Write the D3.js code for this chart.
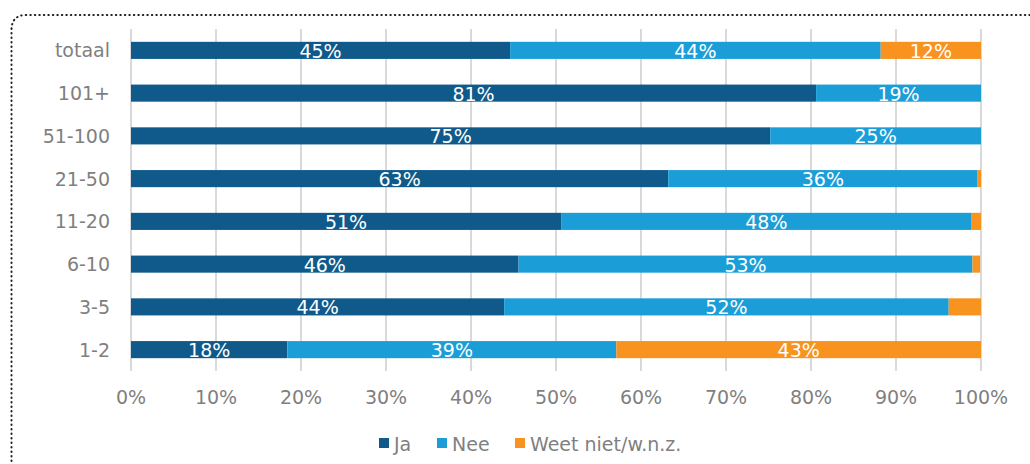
<!DOCTYPE html>
<html>
<head>
<meta charset="utf-8">
<script src="https://cdn.jsdelivr.net/npm/d3@7"></script>
<style>
  body { margin: 0; background: #fff; }
  svg { display: block; font-family: "DejaVu Sans", sans-serif; }
</style>
</head>
<body>
<svg id="canvas" width="1030" height="464"></svg>
<script>
// data
let categories = ['totaal', '101+', '51-100', '21-50', '11-20', '6-10', '3-5', '1-2']
let ja = [44.6, 80.6, 75.2, 63.2, 50.6, 45.6, 43.9, 18.4]
let nee = [43.6, 19.4, 24.8, 36.4, 48.3, 53.4, 52.3, 38.7]
let weet = [11.8, 0, 0, 0.4, 1.1, 0.9, 3.8, 42.9]
let seriesNames = ['Ja', 'Nee', 'Weet niet/w.n.z.']
let colors = ['#0f5a8b', '#1b9ed8', '#f7931e']
let tickValues = [0, 10, 20, 30, 40, 50, 60, 70, 80, 90, 100]

let canvas = d3.select('#canvas')
let textColor = '#7f7f7f'
let fontSize = 19

// dotted frame with a rounded top left corner
canvas.append('path')
  .attr('d', 'M11.5,470 L11.5,30 Q11.5,15 26.5,15 L1040,15')
  .attr('fill', 'none')
  .attr('stroke', '#222')
  .attr('stroke-width', 2)
  .attr('stroke-dasharray', '0.5,4')
  .attr('stroke-linecap', 'round')

let x = d3.scaleLinear().domain([0, 100]).range([131, 981])
let y = d3.scaleBand().domain(categories).range([29, 371]).paddingInner(0.6).paddingOuter(0.3)

// gridlines
canvas.append('g')
  .selectAll('line')
  .data(tickValues)
  .enter()
  .append('line')
  .attr('x1', d => x(d))
  .attr('x2', d => x(d))
  .attr('y1', 29)
  .attr('y2', 371)
  .attr('stroke', '#d9d9d9')
  .attr('stroke-width', 2)

// x tick labels
canvas.append('g')
  .selectAll('text')
  .data(tickValues)
  .enter()
  .append('text')
  .attr('x', d => x(d))
  .attr('y', 404)
  .attr('text-anchor', 'middle')
  .attr('font-size', fontSize)
  .attr('fill', textColor)
  .text(d => d + '%')

// category labels
canvas.append('g')
  .selectAll('text')
  .data(categories)
  .enter()
  .append('text')
  .attr('x', 110)
  .attr('y', d => y(d) + y.bandwidth() / 2 + 7)
  .attr('text-anchor', 'end')
  .attr('font-size', fontSize)
  .attr('fill', textColor)
  .text(d => d)

let rows = categories.map((c, i) => ({ cat: c, Ja: ja[i], Nee: nee[i], 'Weet niet/w.n.z.': weet[i] }))
let stacked = d3.stack().keys(seriesNames)(rows)

let layers = canvas.append('g')
  .selectAll('g')
  .data(stacked)
  .enter()
  .append('g')
  .attr('fill', (d, i) => colors[i])

layers.selectAll('rect')
  .data(d => d)
  .enter()
  .append('rect')
  .attr('x', d => x(d[0]))
  .attr('y', d => y(d.data.cat))
  .attr('width', d => x(d[1]) - x(d[0]))
  .attr('height', y.bandwidth())

// value labels inside segments
layers.selectAll('text')
  .data(d => d.filter(s => s[1] - s[0] >= 5))
  .enter()
  .append('text')
  .attr('x', d => (x(d[0]) + x(d[1])) / 2)
  .attr('y', d => y(d.data.cat) + y.bandwidth() - 1)
  .attr('text-anchor', 'middle')
  .attr('font-size', fontSize)
  .attr('fill', '#fff')
  .text(d => Math.round(d[1] - d[0]) + '%')

// legend
let legendX = [379, 437, 515]
let legend = canvas.append('g')
  .selectAll('g')
  .data(seriesNames)
  .enter()
  .append('g')
  .attr('transform', (d, i) => 'translate(' + legendX[i] + ',438)')

legend.append('rect')
  .attr('width', 10)
  .attr('height', 10)
  .attr('fill', (d, i) => colors[i])

legend.append('text')
  .attr('x', 15)
  .attr('y', 13)
  .attr('font-size', fontSize)
  .attr('fill', textColor)
  .text(d => d)
</script>
</body>
</html>
